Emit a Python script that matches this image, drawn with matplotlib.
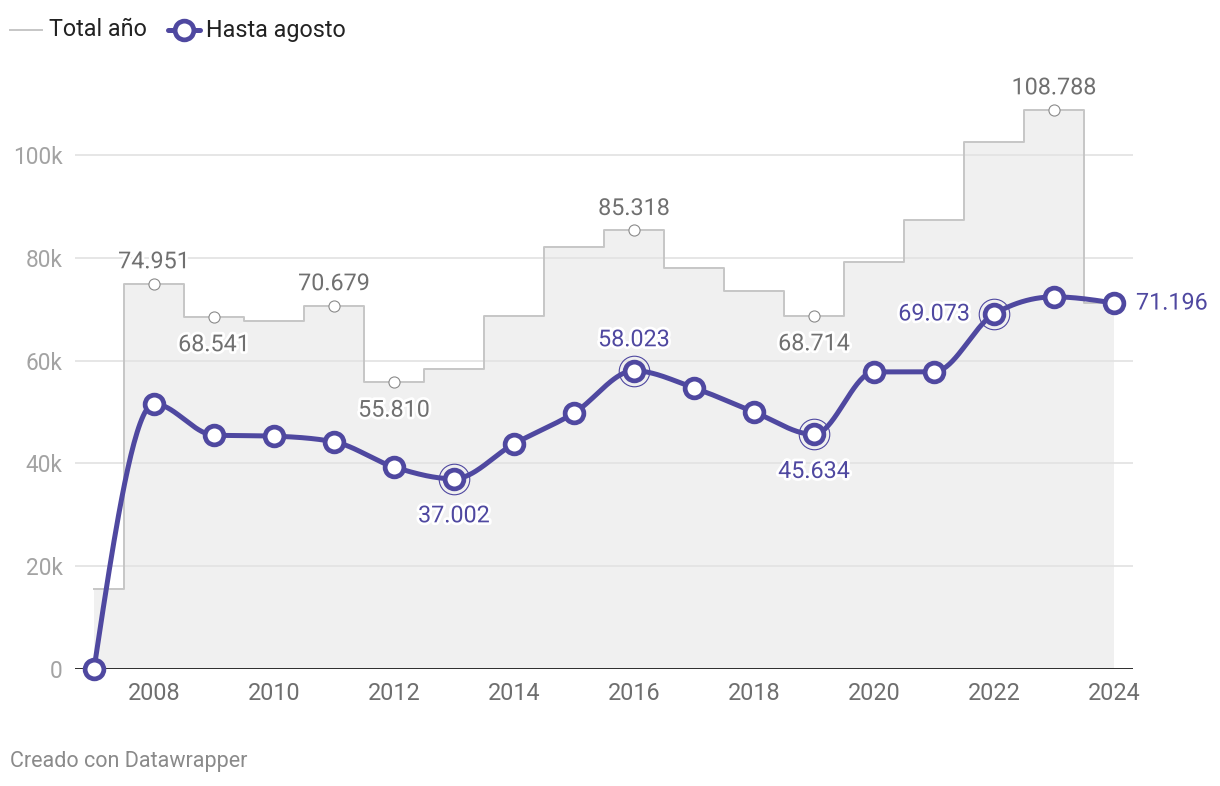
import numpy as np
import matplotlib
matplotlib.use("Agg")
import matplotlib.pyplot as plt
from matplotlib.lines import Line2D
import matplotlib.patheffects as pe

plt.rcParams['font.family'] = ['Roboto', 'DejaVu Sans']

years = list(range(2007, 2025))
total_anio = [15600, 74951, 68541, 67700, 70679, 55810, 58300, 68700, 82100,
              85318, 78000, 73500, 68714, 79200, 87400, 102600, 108788, 71196]
hasta_agosto = [0, 51600, 45500, 45300, 44200, 39300, 37002, 43800, 49800,
                58023, 54700, 50000, 45634, 57800, 57800, 69073, 72400, 71196]

total_labels = {2008: ("74.951", "above"), 2009: ("68.541", "below"),
                2011: ("70.679", "above"), 2012: ("55.810", "below"),
                2016: ("85.318", "above"), 2019: ("68.714", "below"),
                2023: ("108.788", "above")}
hasta_labels = {2013: ("37.002", "below"), 2016: ("58.023", "above"),
                2019: ("45.634", "below"), 2022: ("69.073", "left"),
                2024: ("71.196", "right")}
ring_years = [2013, 2016, 2019, 2022]

yticks = [0, 20000, 40000, 60000, 80000, 100000]
ytick_labels = ["0", "20k", "40k", "60k", "80k", "100k"]
xticks = list(range(2008, 2025, 2))

PURPLE = "#4f48a0"
GRAY_LINE = "#c6c6c6"
FILL = "#f0f0f0"

W, H = 1220, 786
fig = plt.figure(figsize=(W / 100, H / 100), dpi=100)
left_px, right_px, bottom_px, top_px = 75, 1133, 669, 78
ax = fig.add_axes([left_px / W, 1 - bottom_px / H, (right_px - left_px) / W, (bottom_px - top_px) / H])

x0 = years[0]
ax.set_xlim(x0 - 19 / 60, x0 + (right_px - 94) / 60)
ax.set_ylim(0, (bottom_px - top_px) / 5.14 * 1000)

# grid
for yt in yticks[1:]:
    ax.axhline(yt, color="#e2e2e2", lw=1.2, zorder=1)

# step line (mid)
xs = np.array(years, dtype=float)
vals = np.array(total_anio, dtype=float)
sx, sy = [], []
for i, (x, v) in enumerate(zip(xs, vals)):
    a = x - 0.5 if i > 0 else x
    b = x + 0.5 if i < len(xs) - 1 else x
    sx += [a, b]
    sy += [v, v]
ax.fill_between(sx, sy, 0, color=FILL, lw=0, zorder=0.5)
ax.plot(sx, sy, color=GRAY_LINE, lw=1.4, zorder=2)

# zero line
ax.axhline(0, color="#1a1a1a", lw=2.0, zorder=3)

# monotone X interpolation (d3 style)
def monotone(x, y, n=40):
    x = np.asarray(x, float); y = np.asarray(y, float)
    h = np.diff(x); s = np.diff(y) / h
    m = np.zeros_like(y)
    for i in range(1, len(x) - 1):
        p = (s[i - 1] * h[i] + s[i] * h[i - 1]) / (h[i - 1] + h[i])
        m[i] = (np.sign(s[i - 1]) + np.sign(s[i])) * min(abs(s[i - 1]), abs(s[i]), 0.5 * abs(p))
    m[0] = (3 * s[0] - m[1]) / 2
    m[-1] = (3 * s[-1] - m[-2]) / 2
    X, Y = [], []
    for i in range(len(x) - 1):
        t = np.linspace(0, 1, n)
        h00 = 2 * t**3 - 3 * t**2 + 1
        h10 = t**3 - 2 * t**2 + t
        h01 = -2 * t**3 + 3 * t**2
        h11 = t**3 - t**2
        X.append(x[i] + t * h[i])
        Y.append(h00 * y[i] + h10 * h[i] * m[i] + h01 * y[i + 1] + h11 * h[i] * m[i + 1])
    return np.concatenate(X), np.concatenate(Y)

cx, cy = monotone(years, hasta_agosto)
ax.plot(cx, cy, color=PURPLE, lw=3.6, zorder=5, solid_capstyle="round", clip_on=False)
ax.plot(years, hasta_agosto, "o", ms=13.5, mfc="white", mec=PURPLE, mew=3.4, zorder=6, clip_on=False)
for yr in ring_years:
    v = hasta_agosto[years.index(yr)]
    ax.plot([yr], [v], "o", ms=22, mfc="none", mec=PURPLE, mew=0.8, zorder=6, clip_on=False)

# total labelled circles
for yr in total_labels:
    v = total_anio[years.index(yr)]
    ax.plot([yr], [v], "o", ms=8, mfc="white", mec="#8a8a8a", mew=0.8, zorder=4)

halo = [pe.withStroke(linewidth=4, foreground="white")]
FS = 16.8
for yr, (txt, pos) in total_labels.items():
    v = total_anio[years.index(yr)]
    off = 22 if pos == "above" else -28
    ax.annotate(txt, (yr, v), xytext=(0, off), textcoords="offset pixels",
                ha="center", va="center", fontsize=FS, color="#707070", zorder=7, path_effects=halo)

for yr, (txt, pos) in hasta_labels.items():
    v = hasta_agosto[years.index(yr)]
    if pos == "above":
        kw = dict(xytext=(0, 31), ha="center", va="center")
    elif pos == "below":
        kw = dict(xytext=(0, -37), ha="center", va="center")
    elif pos == "left":
        kw = dict(xytext=(-24, 0), ha="right", va="center")
    else:
        kw = dict(xytext=(22, 0), ha="left", va="center")
    ax.annotate(txt, (yr, v), textcoords="offset pixels", fontsize=FS,
                color=PURPLE, zorder=7, path_effects=halo, **kw)

# axes styling
for sp in ax.spines.values():
    sp.set_visible(False)
ax.set_yticks(yticks)
ax.set_yticklabels(ytick_labels)
ax.set_xticks(xticks)
ax.set_xticklabels([str(x) for x in xticks])
ax.tick_params(axis="y", length=0, pad=9, labelsize=16.3, labelcolor="#a3a3a3")
ax.tick_params(axis="x", length=0, pad=9, labelsize=16.8, labelcolor="#6e6e6e")
ax.set_facecolor("none")

# legend
fig.add_artist(Line2D([10 / W, 42 / W], [1 - 30 / H] * 2, color=GRAY_LINE, lw=1.4))
fig.text(49 / W, 1 - 30 / H, "Total año", fontsize=16.8, color="#222222", va="center", ha="left")
fig.add_artist(Line2D([168 / W, 200 / W], [1 - 30 / H] * 2, color=PURPLE, lw=3.6, solid_capstyle="round"))
fig.add_artist(Line2D([184 / W], [1 - 30 / H], marker="o", ms=13.5, mfc="white", mec=PURPLE, mew=3.4))
fig.text(206 / W, 1 - 30 / H, "Hasta agosto", fontsize=16.8, color="#222222", va="center", ha="left")

fig.text(10 / W, 1 - 762 / H, "Creado con Datawrapper", fontsize=15.5, color="#8a8a8a", va="center", ha="left")

fig.savefig("out.png", dpi=100)
